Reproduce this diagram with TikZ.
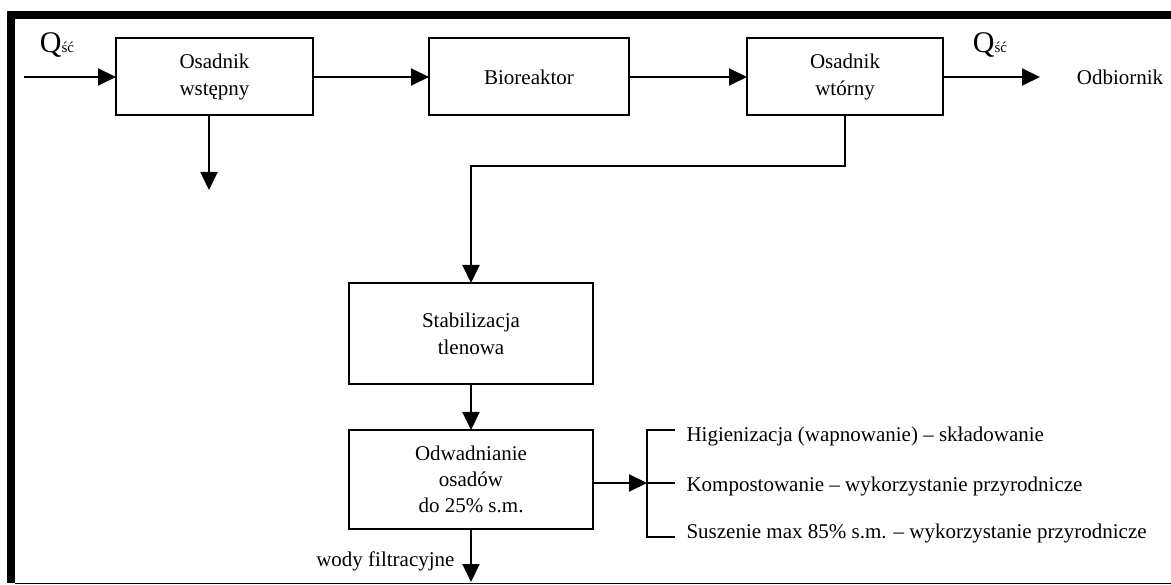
\documentclass[tikz,border=0pt]{standalone}
\usepackage{fontspec}
\setmainfont{Liberation Serif}
\usetikzlibrary{arrows.meta}

\tikzset{
  box/.style={draw, rectangle, line width=2pt, inner sep=0pt, outer sep=0pt, align=center},
  arr/.style={line width=2pt, -{Triangle[length=18pt,width=17pt]}},
  txt/.style={font=\fontsize{21}{27}\selectfont},
  qlbl/.style={inner sep=0pt}
}

\begin{document}
\begin{tikzpicture}[x=1pt, y=-1pt, txt]

\useasboundingbox (0,0) rectangle (1171,585);

% Frame
\fill (7,11) rectangle (1171,19);
\fill (7,11) rectangle (15,583);
\draw[line width=1pt] (15,583) -- (1171,583);

% Define the boxes of the main line in a loop
\foreach \name/\xpos/\bw/\btext in {os1/214.5/197/{Osadnik\\wstępny}, bio/529/200/Bioreaktor, os2/845/196/{Osadnik\\wtórny}} {
    \node[box, minimum width=\bw pt, minimum height=77pt] (\name) at (\xpos,77) {\btext};
}

\node[box, minimum width=244pt, minimum height=101pt] (stab) at (471,333.5) {Stabilizacja\\tlenowa};
\node[box, minimum width=244pt, minimum height=99pt, font=\fontsize{21}{26}\selectfont] (odw) at (471,479.5) {Odwadnianie\\osadów\\do 25\% s.m.};

\coordinate (in) at (24,77);
\coordinate (out) at (1040,77);
\coordinate (sludge) at (209,190);
\coordinate (turn) at (845,166);
\coordinate (br) at (647,483);
\coordinate (drain) at (471,582);

\node[qlbl] (qin) at (57,45) {{\fontsize{30}{30}\selectfont Q}{\fontsize{15}{15}\selectfont ść}};
\node[qlbl] (qout) at (990,45) {{\fontsize{30}{30}\selectfont Q}{\fontsize{15}{15}\selectfont ść}};
\node (odb) at (1120,77) {Odbiornik};

% Define edges in a loop
\foreach \source/\dest in {in/os1, os1/bio, bio/os2, os2/out, stab/odw} {
    \draw[arr] (\source) -- (\dest);
}

\draw[arr] (os1.south -| sludge) -- (sludge);
\draw[arr] (os2.south) -- (turn) -| (stab.north);
\draw[arr] (odw.south) -- (drain);
\draw[arr] (odw.east |- br) -- (br);

% Uses of the sludge
\node[anchor=west] (hig) at (683,436) {Higienizacja (wapnowanie) -- składowanie};
\node[anchor=west] (komp) at (683,486) {Kompostowanie -- wykorzystanie przyrodnicze};
\node[anchor=west] (susz) at (683,533) {Suszenie max 85\% s.m. -- wykorzystanie przyrodnicze};
\draw[line width=2pt] (675,430) -| (647,537) -- (675,537);
\draw[line width=2pt] (br) -- (675,483);

\node[anchor=east] (wody) at (458,561) {wody filtracyjne};

\end{tikzpicture}
\end{document}
